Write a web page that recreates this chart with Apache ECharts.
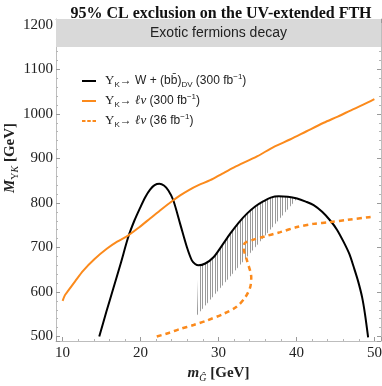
<!DOCTYPE html>
<html>
<head>
<meta charset="utf-8">
<script src="https://cdn.jsdelivr.net/npm/echarts@6/dist/echarts.min.js"></script>
<style>
  html, body { margin: 0; padding: 0; background: #fff; }
  #chart { width: 382px; height: 386px; }
</style>
</head>
<body>
<div id="chart"></div>
<script>
// W + (bb)_DV, 300 fb-1
var blackX = [14.7, 15.6, 16.47, 17.5, 18.43, 19.2, 19.94, 20.6, 21.22, 21.8, 22.42, 23.0, 23.57, 24.2, 25.08, 25.94, 26.58, 27.0, 27.43, 28.3, 29.36, 30.4, 31.5, 32.6, 33.65, 34.7, 35.78, 36.7, 37.71, 38.9, 40.08, 41.2, 42.21, 43.3, 44.36, 45.2, 46.07, 46.8, 47.35, 47.9, 48.43, 48.8, 49.2];
var blackY = [500, 555, 606, 667, 724, 760, 789, 813, 830, 840, 843, 839, 828, 806, 753, 701, 671, 663, 660, 664, 678, 703, 731, 756, 776, 792, 804, 812, 815, 814, 810, 803, 795, 780, 760, 740, 712, 685, 656, 625, 588, 550, 498];

// l nu, 300 fb-1
var orangeX = [10, 10.3, 10.72, 11.6, 12.65, 14.1, 15.66, 17, 18.43, 19.8, 21.22, 22.7, 24.2, 25.08, 26.2, 27.43, 28.93, 30.5, 32, 35, 37, 39.24, 41.3, 43.5, 45.3, 47, 48.5, 50];
var orangeY = [580, 593, 603, 624, 648, 674, 697, 713, 727, 745, 765, 786, 806, 817, 829, 840, 851, 866, 880, 905, 925, 943, 961, 980, 994, 1008, 1020, 1033];

// l nu, 36 fb-1
var dashX = [22.08, 23.6, 25.08, 26.8, 28.5, 30.64, 32.36, 33.43, 34.07, 34.2, 33.65, 33.21, 33.4, 34.4, 35.78, 37.93, 40.08, 42.2, 44.36, 46.6, 49.3, 49.8];
var dashY = [500, 508, 517, 526, 536, 551, 567.5, 588, 611, 633, 671, 700, 710, 717, 724, 734.5, 745.8, 753, 757, 762, 768, 769];

// hatched region
var hatchX = [27.22, 27.43, 28.3, 29.36, 30.4, 31.5, 32.6, 33.65, 34.7, 35.78, 36.7, 37.71, 38.9, 40.08];
var hatchY = [547, 660, 664, 678, 703, 731, 756, 776, 792, 804, 812, 815, 814, 810];

var bandFrom = 1150;
var bandLabel = 'Exotic fermions decay';

var legendNames = {
    bb: '{g|Υ}{s|K}{t|→ W + (b}{t|b\u0304}{t|)}{s|DV}{t| (300 fb}{p|−1}{t|)}',
    lv300: '{g|Υ}{s|K}{t|→ }{i|ℓν}{t| (300 fb}{p|−1}{t|)}',
    lv36: '{g|Υ}{s|K}{t|→ }{i|ℓν}{t| (36 fb}{p|−1}{t|)}'
};

function zip(xs, ys) {
    return xs.map(function (x, i) { return [x, ys[i]]; });
}

// vertical hatch pattern
var hatchCanvas = document.createElement('canvas');
hatchCanvas.width = 5;
hatchCanvas.height = 4;
var hctx = hatchCanvas.getContext('2d');
hctx.fillStyle = '#9a9a9a';
hctx.fillRect(0, 0, 1, 4);
hctx.fillRect(2, 0, 1, 4);

var orange = '#fb8a1c';
var serif = 'Liberation Serif';
var sans = 'Liberation Sans';

var tickStyle = { show: true, inside: true, length: 4, lineStyle: { color: '#9a9a9a' } };
var minorStyle = { show: true, splitNumber: 5, length: 2, lineStyle: { color: '#b5b5b5' } };
var frameLine = { show: true, lineStyle: { color: '#bdbdbd', width: 1 } };

var solidIcon = 'path://M0,0H14V2H0Z';
var dashIcon = 'path://M0,0H3.5V2H0Z M5.25,0H8.75V2H5.25Z M10.5,0H14V2H10.5Z';

var chart = echarts.init(document.getElementById('chart'));

chart.setOption({
    animation: false,
    title: {
        text: '95% CL exclusion on the UV-extended FTH',
        left: 216,
        top: 1,
        textAlign: 'center',
        textStyle: { fontFamily: serif, fontWeight: 'bold', fontSize: 16, color: '#111' }
    },
    grid: { left: 56, right: 1, top: 19, bottom: 45, containLabel: false, outerBoundsMode: 'none' },
    legend: {
        orient: 'vertical',
        left: 82,
        top: 73,
        padding: 0,
        itemWidth: 14,
        itemHeight: 2,
        itemGap: 4,
        data: [
            { name: 'bb', icon: solidIcon },
            { name: 'lv300', icon: solidIcon },
            { name: 'lv36', icon: dashIcon }
        ],
        formatter: function (name) { return legendNames[name]; },
        textStyle: {
            rich: {
                g: { fontFamily: serif, fontSize: 13, color: '#222', lineHeight: 16, verticalAlign: 'middle', padding: [0, 0, 0, 4] },
                t: { fontFamily: sans, fontSize: 12, color: '#222', lineHeight: 16, verticalAlign: 'middle' },
                i: { fontFamily: serif, fontStyle: 'italic', fontSize: 13, color: '#222', lineHeight: 16, verticalAlign: 'middle' },
                s: { fontFamily: sans, fontSize: 8, color: '#222', lineHeight: 8, verticalAlign: 'bottom' },
                p: { fontFamily: sans, fontSize: 8, color: '#222', lineHeight: 8, verticalAlign: 'top' }
            }
        }
    },
    xAxis: [
        {
            type: 'value',
            min: 9.15,
            max: 50.85,
            splitNumber: 4,
            position: 'bottom',
            axisLine: frameLine,
            axisTick: tickStyle,
            minorTick: minorStyle,
            splitLine: { show: false },
            axisLabel: {
                fontFamily: serif, fontSize: 15, color: '#222', margin: 5,
                formatter: function (v) { return v % 10 === 0 ? v : ''; }
            },
            name: '{m|m}{s|Ĝ}{n| [GeV]}',
            nameLocation: 'middle',
            nameGap: 22,
            nameTextStyle: {
                rich: {
                    m: { fontFamily: serif, fontWeight: 'bold', fontStyle: 'italic', fontSize: 15, color: '#222', lineHeight: 20, verticalAlign: 'middle' },
                    s: { fontFamily: serif, fontStyle: 'italic', fontSize: 10, color: '#222', lineHeight: 10, verticalAlign: 'bottom' },
                    n: { fontFamily: serif, fontWeight: 'bold', fontSize: 15, color: '#222', lineHeight: 20, verticalAlign: 'middle' }
                }
            }
        },
        {
            type: 'value',
            min: 9.15,
            max: 50.85,
            splitNumber: 4,
            position: 'top',
            axisLine: frameLine,
            axisTick: tickStyle,
            minorTick: minorStyle,
            splitLine: { show: false },
            axisLabel: { show: false }
        }
    ],
    yAxis: [
        {
            type: 'value',
            min: 490,
            max: 1213,
            splitNumber: 7,
            position: 'left',
            axisLine: frameLine,
            axisTick: tickStyle,
            minorTick: minorStyle,
            splitLine: { show: false },
            axisLabel: {
                fontFamily: serif, fontSize: 15, color: '#222', margin: 3,
                formatter: function (v) { return v % 100 === 0 ? v : ''; }
            },
            name: '{m|M}{s|Υ}{k|K}{n| [GeV]}',
            nameLocation: 'middle',
            nameRotate: 90,
            nameGap: 36,
            nameMoveOverlap: false,
            nameTextStyle: {
                padding: [0, 0, 0, 44],
                rich: {
                    m: { fontFamily: serif, fontWeight: 'bold', fontStyle: 'italic', fontSize: 15, color: '#222', lineHeight: 20, verticalAlign: 'middle' },
                    s: { fontFamily: serif, fontSize: 10, color: '#222', lineHeight: 10, verticalAlign: 'bottom' },
                    k: { fontFamily: serif, fontStyle: 'italic', fontSize: 10, color: '#222', lineHeight: 10, verticalAlign: 'bottom' },
                    n: { fontFamily: serif, fontWeight: 'bold', fontSize: 15, color: '#222', lineHeight: 20, verticalAlign: 'middle' }
                }
            }
        },
        {
            type: 'value',
            min: 490,
            max: 1213,
            splitNumber: 7,
            position: 'right',
            axisLine: frameLine,
            axisTick: tickStyle,
            minorTick: minorStyle,
            splitLine: { show: false },
            axisLabel: { show: false }
        }
    ],
    series: [
        {
            name: 'hatch',
            type: 'custom',
            silent: true,
            z: 1,
            data: [[30, 700]],
            renderItem: function (params, api) {
                var pts = hatchX.map(function (x, i) { return api.coord([x, hatchY[i]]); });
                return {
                    type: 'polygon',
                    shape: { points: pts },
                    style: { fill: { image: hatchCanvas, repeat: 'repeat' }, stroke: null }
                };
            }
        },
        {
            name: 'bb',
            type: 'line',
            data: zip(blackX, blackY),
            symbol: 'none',
            smooth: 0.3,
            z: 3,
            lineStyle: { color: '#000', width: 2 },
            itemStyle: { color: '#000' },
            markArea: {
                silent: true,
                itemStyle: { color: '#d9d9d9' },
                label: {
                    show: true,
                    position: 'inside',
                    fontFamily: sans,
                    fontSize: 14,
                    color: '#222'
                },
                data: [[{ yAxis: bandFrom, name: bandLabel }, { yAxis: 1213 }]]
            }
        },
        {
            name: 'lv300',
            type: 'line',
            data: zip(orangeX, orangeY),
            symbol: 'none',
            smooth: 0.3,
            z: 3,
            lineStyle: { color: orange, width: 2 },
            itemStyle: { color: orange }
        },
        {
            name: 'lv36',
            type: 'line',
            data: zip(dashX, dashY),
            symbol: 'none',
            smooth: 0.3,
            z: 3,
            lineStyle: { color: orange, width: 2.5, type: [5, 4] },
            itemStyle: { color: orange }
        }
    ]
});
</script>
</body>
</html>
